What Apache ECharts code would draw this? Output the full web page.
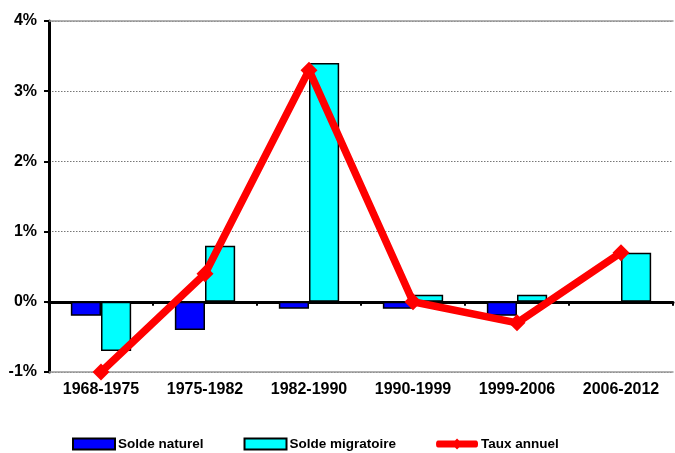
<!DOCTYPE html>
<html><head><meta charset="utf-8">
<script src="https://cdn.jsdelivr.net/npm/echarts@6/dist/echarts.min.js"></script>
<style>html,body{margin:0;padding:0;background:#fff}#c{width:675px;height:453px}</style>
</head><body><div id="c"></div>
<script>
const categories = ['1968-1975','1975-1982','1982-1990','1990-1999','1999-2006','2006-2012'];
const soldeNaturel = [-0.2, -0.4, -0.1, -0.1, -0.2, 0.0];
const soldeMigratoire = [-0.7, 0.8, 3.4, 0.1, 0.1, 0.7];
const tauxAnnuel = [-1.0, 0.4, 3.3, 0.0, -0.3, 0.7];
const yTicks = [-1, 0, 1, 2, 3, 4];

const font = 'Liberation Sans, Arial, sans-serif';
const chart = echarts.init(document.getElementById('c'));
chart.setOption({
  animation: false,
  grid: {left: 49, right: 2, top: 21, bottom: 81},
  legend: {
    top: 432, left: 67, itemGap: 40, itemWidth: 42, itemHeight: 11,
    textStyle: {fontFamily: font, fontWeight: 'bold', fontSize: 13.5, color: '#000', padding: [0,0,0,-2]},
    data: [
      {name: 'Solde naturel', icon: 'rect'},
      {name: 'Solde migratoire', icon: 'rect'},
      {name: 'Taux annuel', icon: 'path://M2,2 L19,2 L21,0 L23,2 L40,2 Q42,2 42,5.5 Q42,9 40,9 L23,9 L21,11 L19,9 L2,9 Q0,9 0,5.5 Q0,2 2,2 Z'}
    ]
  },
  xAxis: [
    {type: 'category', data: categories, axisLine: {onZero: true, lineStyle: {color: '#000', width: 3}},
     axisTick: {show: true, length: 4, lineStyle: {color: '#000', width: 2}}, axisLabel: {show: false}},
    {type: 'category', data: categories, position: 'bottom', axisLine: {onZero: false, lineStyle: {color: '#999', width: 1.5}},
     axisTick: {show: false},
     axisLabel: {fontFamily: font, fontWeight: 'bold', fontSize: 16, color: '#000', margin: 10}},
    {type: 'category', data: categories, position: 'top', axisLine: {onZero: false, lineStyle: {color: '#999', width: 1.5}},
     axisTick: {show: false}, axisLabel: {show: false}}
  ],
  yAxis: {
    type: 'value', min: yTicks[0], max: yTicks[yTicks.length-1], interval: 1,
    axisLine: {show: true, lineStyle: {color: '#000', width: 3}},
    axisTick: {show: true, length: 5, lineStyle: {color: '#000', width: 2}},
    axisLabel: {formatter: '{value}%', fontFamily: font, fontWeight: 'bold', fontSize: 16, color: '#000', margin: 12},
    splitLine: {lineStyle: {color: '#777', type: [1.5, 1.5], width: 1}}
  },
  series: [
    {name: 'Solde naturel', type: 'bar', data: soldeNaturel, barGap: '0%', barCategoryGap: '42%',
     itemStyle: {color: '#0000FF', borderColor: '#000', borderWidth: 1.5}},
    {name: 'Solde migratoire', type: 'bar', data: soldeMigratoire,
     itemStyle: {color: '#00FFFF', borderColor: '#000', borderWidth: 1.5}},
    {name: 'Taux annuel', type: 'line', data: tauxAnnuel, symbol: 'diamond', symbolSize: 17,
     lineStyle: {color: '#FF0000', width: 7.5}, itemStyle: {color: '#FF0000'}, z: 5}
  ]
});
</script></body></html>
